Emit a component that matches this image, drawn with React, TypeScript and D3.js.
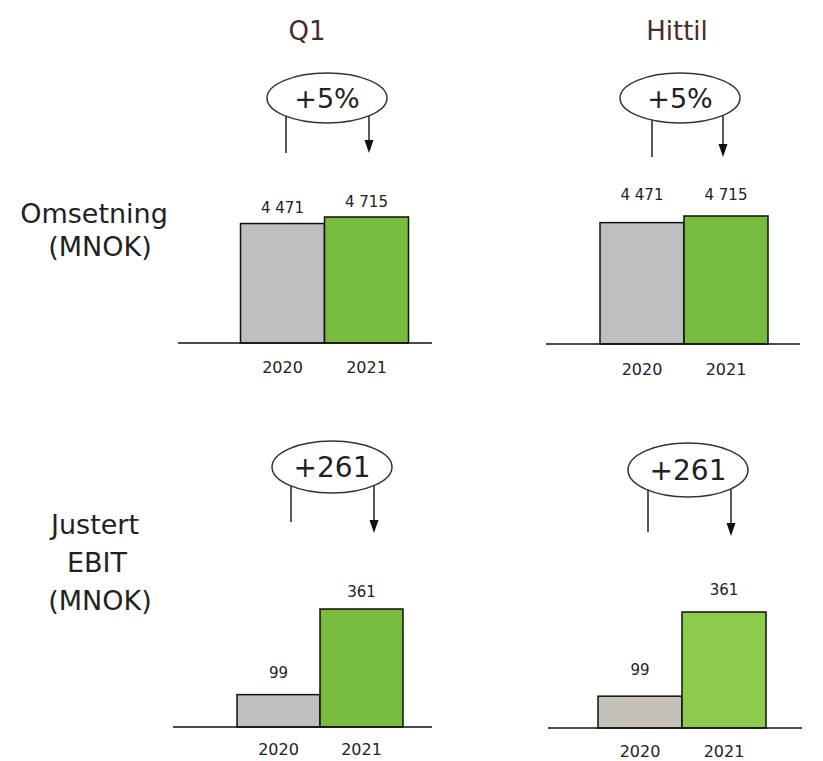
import React from "react";
import * as d3 from "d3";

const categories = ["2020", "2021"];
const columnTitles = ["Q1", "Hittil"];
const rowLabelOmsetning = ["Omsetning", "(MNOK)"];
const rowLabelEbit = ["Justert", "EBIT", "(MNOK)"];

const omsetningQ1 = [4471, 4715];
const omsetningHittil = [4471, 4715];
const ebitQ1 = [99, 361];
const ebitHittil = [99, 361];

const omsetningLabels = ["4 471", "4 715"];
const ebitLabels = ["99", "361"];

const changeOmsetningQ1 = "+5%";
const changeOmsetningHittil = "+5%";
const changeEbitQ1 = "+261";
const changeEbitHittil = "+261";

const FONT = "'DejaVu Sans', Verdana, sans-serif";

type Panel = {
  values: number[];
  labels: string[];
  change: string;
  domainMax: number;
  barHeight: number;
  baseline: number;
  bandX0: number;
  bandX1: number;
  axisX0: number;
  axisX1: number;
  labelY: number[];
  yearY: number;
  colors: string[];
  cx: number;
  cy: number;
  rx: number;
  ry: number;
  leftX: number;
  rightX: number;
  leftEnd: number;
  tipY: number;
  changeSize: number;
};

const panels: Panel[] = [
  {
    values: omsetningQ1, labels: omsetningLabels, change: changeOmsetningQ1,
    domainMax: 4715, barHeight: 126, baseline: 343, bandX0: 240.5, bandX1: 408.5,
    axisX0: 178, axisX1: 432, labelY: [213, 207], yearY: 373,
    colors: ["#bfbfbf", "#77bb3f"],
    cx: 327, cy: 98, rx: 60, ry: 25, leftX: 286, rightX: 369, leftEnd: 153, tipY: 153,
    changeSize: 27,
  },
  {
    values: omsetningHittil, labels: omsetningLabels, change: changeOmsetningHittil,
    domainMax: 4715, barHeight: 128, baseline: 344, bandX0: 600, bandX1: 768,
    axisX0: 546, axisX1: 800, labelY: [200, 200], yearY: 375,
    colors: ["#bfbfbf", "#77bb3f"],
    cx: 680, cy: 98, rx: 60, ry: 25, leftX: 652, rightX: 723, leftEnd: 157, tipY: 157,
    changeSize: 27,
  },
  {
    values: ebitQ1, labels: ebitLabels, change: changeEbitQ1,
    domainMax: 361, barHeight: 118, baseline: 727, bandX0: 237, bandX1: 403,
    axisX0: 173, axisX1: 432, labelY: [678, 597], yearY: 755,
    colors: ["#bfbfbf", "#77bb3f"],
    cx: 332, cy: 467, rx: 60, ry: 26, leftX: 291, rightX: 374, leftEnd: 522, tipY: 533,
    changeSize: 28,
  },
  {
    values: ebitHittil, labels: ebitLabels, change: changeEbitHittil,
    domainMax: 361, barHeight: 116, baseline: 728, bandX0: 598, bandX1: 766,
    axisX0: 548, axisX1: 802, labelY: [675, 595], yearY: 757,
    colors: ["#c2c0b8", "#8ccb4b"],
    cx: 688, cy: 470, rx: 60, ry: 27, leftX: 648, rightX: 731, leftEnd: 532, tipY: 536,
    changeSize: 28,
  },
];

function PanelChart({ p }: { p: Panel }) {
  const x = d3.scaleBand<string>().domain(categories).range([p.bandX0, p.bandX1]).padding(0);
  const h = d3.scaleLinear().domain([0, p.domainMax]).range([0, p.barHeight]);
  const ellipseBottom = (px: number) =>
    p.cy + p.ry * Math.sqrt(Math.max(0, 1 - ((px - p.cx) / p.rx) ** 2));
  const headH = 13;
  const headW = 9;
  return (
    <g>
      {categories.map((c, i) => {
        const bh = h(p.values[i]);
        return (
          <rect
            key={c}
            x={x(c)}
            y={p.baseline - bh}
            width={x.bandwidth()}
            height={bh}
            fill={p.colors[i]}
            stroke="#111"
            strokeWidth={1.5}
          />
        );
      })}
      <line x1={p.axisX0} x2={p.axisX1} y1={p.baseline} y2={p.baseline} stroke="#111" strokeWidth={1.5} />
      {categories.map((c, i) => (
        <text
          key={"v" + c}
          x={(x(c) as number) + x.bandwidth() / 2}
          y={p.labelY[i]}
          textAnchor="middle"
          fontFamily={FONT}
          fontSize={15}
          fill="#222"
        >
          {p.labels[i]}
        </text>
      ))}
      {categories.map((c) => (
        <text
          key={"y" + c}
          x={(x(c) as number) + x.bandwidth() / 2}
          y={p.yearY}
          textAnchor="middle"
          fontFamily={FONT}
          fontSize={16}
          fill="#222"
        >
          {c}
        </text>
      ))}
      <line x1={p.leftX} x2={p.leftX} y1={ellipseBottom(p.leftX)} y2={p.leftEnd} stroke="#222" strokeWidth={1.5} />
      <line x1={p.rightX} x2={p.rightX} y1={ellipseBottom(p.rightX)} y2={p.tipY - headH + 1} stroke="#222" strokeWidth={1.5} />
      <path
        d={`M${p.rightX - headW / 2},${p.tipY - headH} L${p.rightX + headW / 2},${p.tipY - headH} L${p.rightX},${p.tipY} Z`}
        fill="#111"
      />
      <ellipse cx={p.cx} cy={p.cy} rx={p.rx} ry={p.ry} fill="#fff" stroke="#333" strokeWidth={1.5} />
      <text
        x={p.cx}
        y={p.cy + p.changeSize * 0.36}
        textAnchor="middle"
        fontFamily={FONT}
        fontSize={p.changeSize}
        fill="#222"
      >
        {p.change}
      </text>
    </g>
  );
}

export default function App() {
  return (
    <svg width={823} height={761} style={{ display: "block", position: "absolute", left: 0, top: 0, background: "#fff" }}>
      <rect x={0} y={0} width={823} height={761} fill="#fff" />
      <text x={307} y={40} textAnchor="middle" fontFamily={FONT} fontSize={26} fill="#4a2c2c">
        {columnTitles[0]}
      </text>
      <text x={677} y={40} textAnchor="middle" fontFamily={FONT} fontSize={26} fill="#4a2c2c">
        {columnTitles[1]}
      </text>
      <text x={94} y={223} textAnchor="middle" fontFamily={FONT} fontSize={27} fill="#222">
        {rowLabelOmsetning[0]}
      </text>
      <text x={100} y={256} textAnchor="middle" fontFamily={FONT} fontSize={27} fill="#222">
        {rowLabelOmsetning[1]}
      </text>
      <text x={95} y={534} textAnchor="middle" fontFamily={FONT} fontSize={27} fill="#222">
        {rowLabelEbit[0]}
      </text>
      <text x={97} y={572} textAnchor="middle" fontFamily={FONT} fontSize={27} fill="#222">
        {rowLabelEbit[1]}
      </text>
      <text x={100} y={610} textAnchor="middle" fontFamily={FONT} fontSize={27} fill="#222">
        {rowLabelEbit[2]}
      </text>
      {panels.map((p, i) => (
        <PanelChart key={i} p={p} />
      ))}
    </svg>
  );
}
